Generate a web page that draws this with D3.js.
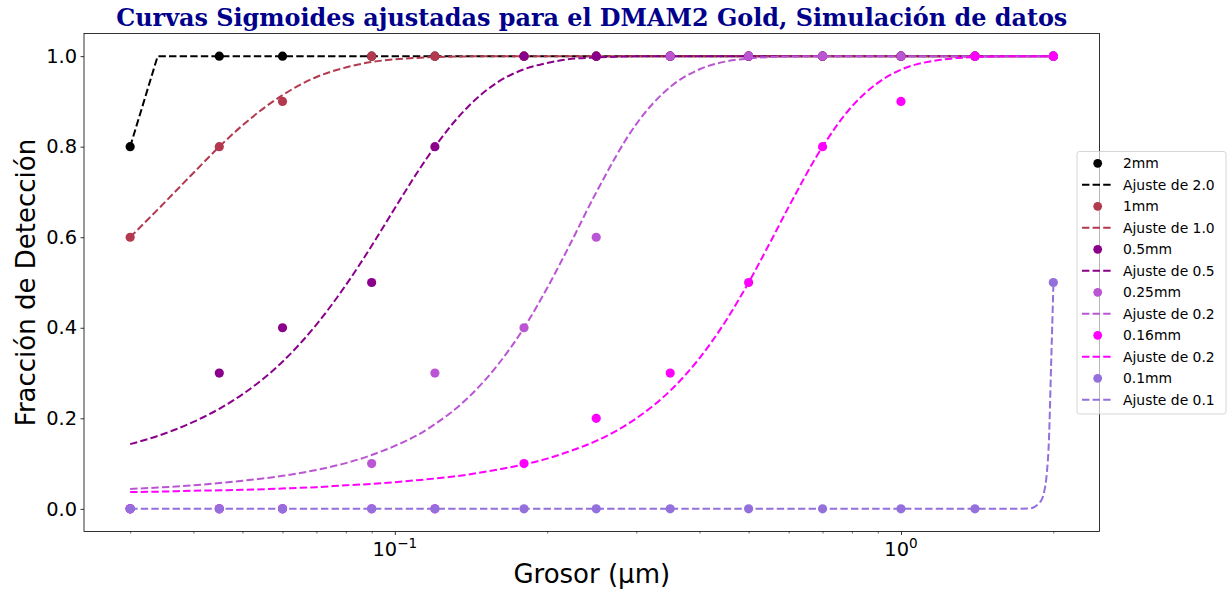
<!DOCTYPE html>
<html>
<head>
<meta charset="utf-8">
<script src="https://cdn.jsdelivr.net/npm/d3@7"></script>
<style>
  body { margin: 0; background: #fff; }
  svg { display: block; }
</style>
</head>
<body>
<div id="plot"></div>
<script>
// Thickness values (µm) where detection was simulated
const thickness = [0.03, 0.045, 0.06, 0.09, 0.12, 0.18, 0.25, 0.35, 0.5, 0.7, 1.0, 1.4, 2.0];

// Detected fraction per disk diameter
const det2mm   = [0.8, 1.0, 1.0, 1.0, 1.0, 1.0, 1.0, 1.0, 1.0, 1.0, 1.0, 1.0, 1.0];
const det1mm   = [0.6, 0.8, 0.9, 1.0, 1.0, 1.0, 1.0, 1.0, 1.0, 1.0, 1.0, 1.0, 1.0];
const det05mm  = [0.0, 0.3, 0.4, 0.5, 0.8, 1.0, 1.0, 1.0, 1.0, 1.0, 1.0, 1.0, 1.0];
const det025mm = [0.0, 0.0, 0.0, 0.1, 0.3, 0.4, 0.6, 1.0, 1.0, 1.0, 1.0, 1.0, 1.0];
const det016mm = [0.0, 0.0, 0.0, 0.0, 0.0, 0.1, 0.2, 0.3, 0.5, 0.8, 0.9, 1.0, 1.0];
const det01mm  = [0.0, 0.0, 0.0, 0.0, 0.0, 0.0, 0.0, 0.0, 0.0, 0.0, 0.0, 0.0, 0.5];

// Fitted sigmoid curves at these thicknesses
const fitX = [0.03, 0.034, 0.04, 0.045, 0.05, 0.06, 0.07, 0.08, 0.09, 0.1, 0.11, 0.12, 0.14,
  0.16, 0.18, 0.2, 0.22, 0.25, 0.3, 0.35, 0.4, 0.45, 0.5, 0.55, 0.6, 0.7, 0.8, 0.9, 1.0,
  1.2, 1.4, 1.6, 1.8, 1.84, 1.88, 1.9, 1.92, 1.94, 1.96, 1.98, 2.0];

const fit2mm = [0.8, 1.0, 1.0, 1.0, 1.0, 1.0, 1.0, 1.0, 1.0, 1.0, 1.0, 1.0, 1.0,
  1.0, 1.0, 1.0, 1.0, 1.0, 1.0, 1.0, 1.0, 1.0, 1.0, 1.0, 1.0, 1.0, 1.0, 1.0, 1.0,
  1.0, 1.0, 1.0, 1.0, 1.0, 1.0, 1.0, 1.0, 1.0, 1.0, 1.0, 1.0];
const fit1mm = [0.600, 0.661, 0.742, 0.800, 0.847, 0.914, 0.954, 0.975, 0.987, 0.993, 0.996, 0.998, 0.9995,
  1.0, 1.0, 1.0, 1.0, 1.0, 1.0, 1.0, 1.0, 1.0, 1.0, 1.0, 1.0, 1.0, 1.0, 1.0, 1.0,
  1.0, 1.0, 1.0, 1.0, 1.0, 1.0, 1.0, 1.0, 1.0, 1.0, 1.0, 1.0];
const fit05mm = [0.143, 0.161, 0.192, 0.221, 0.253, 0.325, 0.407, 0.494, 0.581, 0.664, 0.738, 0.800, 0.890,
  0.943, 0.971, 0.985, 0.993, 0.997, 0.9996, 1.0, 1.0, 1.0, 1.0, 1.0, 1.0, 1.0, 1.0, 1.0, 1.0,
  1.0, 1.0, 1.0, 1.0, 1.0, 1.0, 1.0, 1.0, 1.0, 1.0, 1.0, 1.0];
const fit025mm = [0.044, 0.047, 0.052, 0.057, 0.062, 0.073, 0.086, 0.101, 0.119, 0.139, 0.161, 0.187, 0.247,
  0.319, 0.400, 0.488, 0.576, 0.699, 0.850, 0.932, 0.971, 0.988, 0.995, 0.998, 0.999, 1.0, 1.0, 1.0, 1.0,
  1.0, 1.0, 1.0, 1.0, 1.0, 1.0, 1.0, 1.0, 1.0, 1.0, 1.0, 1.0];
const fit016mm = [0.037, 0.038, 0.040, 0.041, 0.042, 0.045, 0.048, 0.052, 0.055, 0.059, 0.063, 0.067, 0.076,
  0.087, 0.098, 0.111, 0.126, 0.150, 0.200, 0.261, 0.333, 0.414, 0.500, 0.586, 0.667, 0.800, 0.889, 0.941, 0.970,
  0.992, 0.998, 0.9995, 1.0, 1.0, 1.0, 1.0, 1.0, 1.0, 1.0, 1.0, 1.0];
const fit01mm = [0, 0, 0, 0, 0, 0, 0, 0, 0, 0, 0, 0, 0,
  0, 0, 0, 0, 0, 0, 0, 0, 0, 0, 0, 0, 0, 0, 0, 0,
  0, 0, 0, 0.001, 0.005, 0.014, 0.022, 0.040, 0.075, 0.150, 0.320, 0.490];

const pointLabels = ["2mm", "1mm", "0.5mm", "0.25mm", "0.16mm", "0.1mm"];
const fitLabels = ["Ajuste de 2.0", "Ajuste de 1.0", "Ajuste de 0.5", "Ajuste de 0.2", "Ajuste de 0.2", "Ajuste de 0.1"];
const yTicks = [0.0, 0.2, 0.4, 0.6, 0.8, 1.0];
const xMajor = [0.1, 1];
const xMajorExp = ["\u22121", "0"];
const xMinor = [0.03, 0.04, 0.05, 0.06, 0.07, 0.08, 0.09, 0.2, 0.3, 0.4, 0.5, 0.6, 0.7, 0.8, 0.9, 2];

const detections = [det2mm, det1mm, det05mm, det025mm, det016mm, det01mm];
const fits = [fit2mm, fit1mm, fit05mm, fit025mm, fit016mm, fit01mm];

// styles
const colors = ["#000000", "#b3394f", "#8b008b", "#ba55d3", "#ff00ff", "#9370db"];
const fitCurves = [d3.curveLinear, d3.curveMonotoneX, d3.curveMonotoneX, d3.curveMonotoneX, d3.curveMonotoneX, d3.curveMonotoneX];

const width = 1228;
const height = 595;
const box = { left: 84, right: 1099.5, top: 33.5, bottom: 531.5 };
const font = "'DejaVu Sans', sans-serif";

const svg = d3.select("#plot")
  .append("svg")
  .attr("width", width)
  .attr("height", height);

// log x with 5% margin in log space, like matplotlib autoscale
const lx = d3.extent(thickness).map(Math.log10);
const pad = (lx[1] - lx[0]) * 0.05;
const x = d3.scaleLog()
  .domain([Math.pow(10, lx[0] - pad), Math.pow(10, lx[1] + pad)])
  .range([box.left, box.right]);

const y = d3.scaleLinear()
  .domain([-0.05, 1.05])
  .range([box.bottom, box.top]);

// Marks: points then fit line for each series
const plotArea = svg.append("g");
detections.forEach((vals, i) => {
  plotArea.append("g")
    .selectAll("circle")
    .data(thickness.map((t, j) => [t, vals[j]]))
    .enter()
    .append("circle")
    .attr("cx", d => x(d[0]))
    .attr("cy", d => y(d[1]))
    .attr("r", 4.6)
    .attr("fill", colors[i]);

  const line = d3.line()
    .x((d) => x(d[0]))
    .y((d) => y(d[1]))
    .curve(fitCurves[i]);

  plotArea.append("path")
    .datum(fitX.map((t, j) => [t, fits[i][j]]))
    .attr("d", line)
    .attr("fill", "none")
    .attr("stroke", colors[i])
    .attr("stroke-width", 2)
    .attr("stroke-dasharray", "7.4,3.2");
});

// Axes
const xMinorAxis = svg.append("g")
  .attr("transform", `translate(0,${box.bottom})`)
  .call(d3.axisBottom(x).tickValues(xMinor).tickSize(2).tickFormat(""));
xMinorAxis.select(".domain").remove();
xMinorAxis.selectAll("line").attr("stroke-width", 0.6);

const xAxis = svg.append("g")
  .attr("transform", `translate(0,${box.bottom})`)
  .call(d3.axisBottom(x).tickValues(xMajor).tickSize(3.5).tickFormat(""));
xAxis.select(".domain").remove();
xAxis.selectAll("line").attr("stroke-width", 0.8);

const xLabels = svg.append("g")
  .selectAll("text")
  .data(xMajor)
  .enter()
  .append("text")
  .attr("x", d => x(d))
  .attr("y", 556)
  .attr("text-anchor", "middle")
  .style("font-family", font)
  .style("font-size", "19.4px")
  .style("fill", "#000");
xLabels.append("tspan").text("10");
xLabels.append("tspan")
  .attr("dy", -8.5)
  .style("font-size", "13.6px")
  .text((d, i) => xMajorExp[i]);

const yAxis = svg.append("g")
  .attr("transform", `translate(${box.left},0)`)
  .call(d3.axisLeft(y).tickValues(yTicks).tickSize(3.5).tickPadding(3.5).tickFormat(d3.format(".1f")));
yAxis.select(".domain").remove();
yAxis.selectAll("line").attr("stroke-width", 0.8);
yAxis.selectAll("text")
  .style("font-family", font)
  .style("font-size", "19.4px")
  .style("fill", "#000");

// Frame
svg.append("rect")
  .attr("x", box.left)
  .attr("y", box.top)
  .attr("width", box.right - box.left)
  .attr("height", box.bottom - box.top)
  .attr("fill", "none")
  .attr("stroke", "#000")
  .attr("stroke-width", 0.8);

// Axis titles
svg.append("text")
  .attr("x", (box.left + box.right) / 2)
  .attr("y", 583)
  .attr("text-anchor", "middle")
  .style("font-family", font)
  .style("font-size", "26px")
  .text("Grosor (µm)");

svg.append("text")
  .attr("transform", `translate(35,${(box.top + box.bottom) / 2}) rotate(-90)`)
  .attr("text-anchor", "middle")
  .style("font-family", font)
  .style("font-size", "26px")
  .text("Fracción de Detección");

// Title
svg.append("text")
  .attr("x", (box.left + box.right) / 2)
  .attr("y", 25.5)
  .attr("text-anchor", "middle")
  .style("font-family", "'DejaVu Serif', serif")
  .style("font-weight", "bold")
  .style("font-size", "23.9px")
  .style("fill", "#00008b")
  .text("Curvas Sigmoides ajustadas para el DMAM2 Gold, Simulación de datos");

// Legend
const entries = [];
pointLabels.forEach((p, i) => {
  entries.push({ kind: "point", label: p, color: colors[i] });
  entries.push({ kind: "line", label: fitLabels[i], color: colors[i] });
});

const legend = svg.append("g")
  .attr("transform", "translate(1077,151.5)");

legend.append("rect")
  .attr("width", 149)
  .attr("height", 262.5)
  .attr("rx", 2.5)
  .attr("fill", "#fff")
  .attr("fill-opacity", 0.65)
  .attr("stroke", "#cccccc")
  .attr("stroke-width", 0.8);

const rows = legend.selectAll("g.row")
  .data(entries)
  .enter()
  .append("g")
  .attr("class", "row")
  .attr("transform", (d, i) => `translate(0,${11.8 + i * 21.5})`);

rows.filter(d => d.kind === "point")
  .append("circle")
  .attr("cx", 20.7)
  .attr("r", 4.4)
  .attr("fill", d => d.color);

rows.filter(d => d.kind === "line")
  .append("line")
  .attr("x1", 5)
  .attr("x2", 34)
  .attr("stroke", d => d.color)
  .attr("stroke-width", 2)
  .attr("stroke-dasharray", "7.4,3.2");

rows.append("text")
  .attr("x", 46)
  .attr("dy", "0.36em")
  .style("font-family", font)
  .style("font-size", "13.9px")
  .text(d => d.label);
</script>
</body>
</html>
